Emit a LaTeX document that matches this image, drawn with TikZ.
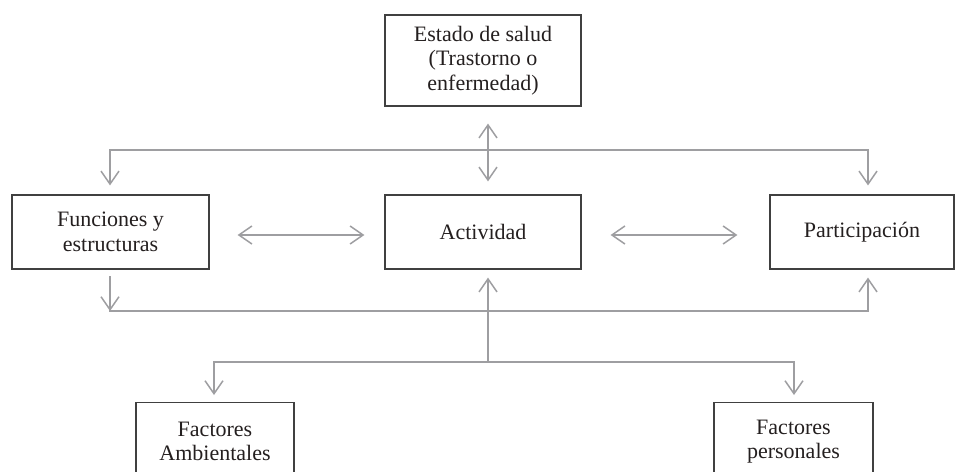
\documentclass[tikz,border=0pt]{standalone}
\usepackage{fontspec}
\setmainfont{Liberation Serif}
\usetikzlibrary{arrows.meta}

\begin{document}
\begin{tikzpicture}[x=1pt,y=-1pt,
  box/.style={draw=cbox,line width=1.2pt,inner sep=0pt,align=center,text=ctext,font=\fontsize{22}{24.5}\selectfont},
  link/.style={draw=clink,line width=1.8pt,line cap=rect},
  arr/.style={-{Straight Barb[length=13pt,width=18pt,line width=1.5pt]}},
  biarr/.style={{Straight Barb[length=13pt,width=18pt,line width=1.5pt]}-{Straight Barb[length=13pt,width=18pt,line width=1.5pt]}}]
\definecolor{cbox}{rgb}{0.25,0.25,0.25}
\definecolor{ctext}{rgb}{0.14,0.12,0.12}
\definecolor{clink}{rgb}{0.62,0.62,0.63}
\useasboundingbox (0,0) rectangle (955,471);
%
\node[box,minimum width=196pt,minimum height=91pt] (estado) at (483,60.5) {Estado de salud\\(Trastorno o\\enfermedad)};
\node[box,minimum width=197pt,minimum height=74pt] (funciones) at (110.5,232) {Funciones y\\estructuras};
\node[box,minimum width=196pt,minimum height=74pt] (actividad) at (483,232) {Actividad};
\node[box,minimum width=184pt,minimum height=74pt] (participacion) at (862,232) {Participación};
\node[box,minimum width=158pt,minimum height=78pt,anchor=north] (ambientales) at (215,402) {Factores\\Ambientales};
\node[box,minimum width=159pt,minimum height=78pt,anchor=north] (personales) at (793.5,402) {Factores\\personales};
%
\coordinate (bus1l) at (110,150);
\coordinate (bus1r) at (868,150);
\coordinate (bus2l) at (110,311);
\coordinate (bus2r) at (868,311);
\coordinate (bus3l) at (214,362);
\coordinate (bus3r) at (794,362);
\coordinate (bus3m) at (488,362);
%
\draw[link] (bus1l) -- (bus1r);
\draw[link,arr,shorten >=9pt] (bus1l) -- (bus1l |- funciones.north);
\draw[link,arr,shorten >=9pt] (bus1r) -- (bus1r |- participacion.north);
\draw[link,biarr,shorten <=17pt,shorten >=13pt] ([xshift=5pt]estado.south) -- ([xshift=5pt]actividad.north);
\draw[link,biarr,shorten <=28pt,shorten >=20pt] ([yshift=-3pt]funciones.east) -- ([yshift=-3pt]actividad.west);
\draw[link,biarr,shorten <=29pt,shorten >=32pt] ([yshift=-3pt]actividad.east) -- ([yshift=-3pt]participacion.west);
\draw[link,arr,shorten <=7pt] (funciones.south -| bus2l) -- (bus2l);
\draw[link] (bus2l) -- (bus2r);
\draw[link,arr,shorten >=8pt] (bus2r) -- (bus2r |- participacion.south);
\draw[link] (bus3l) -- (bus3r);
\draw[link,arr,shorten >=8pt] (bus3m) -- (bus3m |- actividad.south);
\draw[link,arr,shorten >=7pt] (bus3l) -- (bus3l |- ambientales.north);
\draw[link,arr,shorten >=7pt] (bus3r) -- (bus3r |- personales.north);
%
\end{tikzpicture}
\end{document}
